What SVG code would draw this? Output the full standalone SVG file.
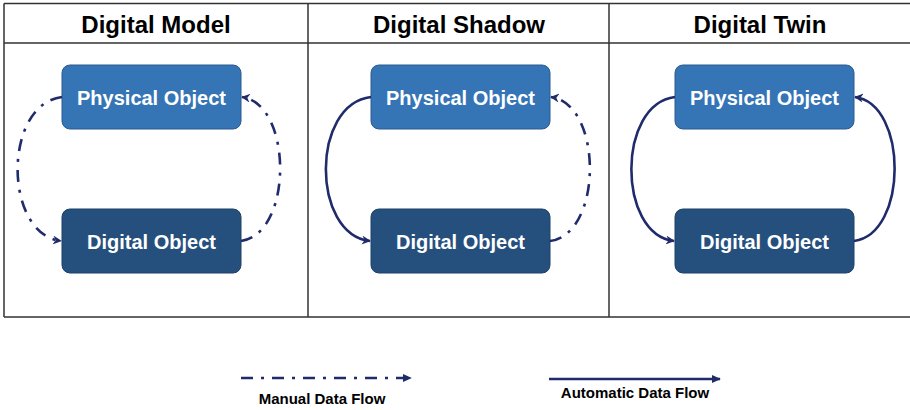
<svg xmlns="http://www.w3.org/2000/svg" width="910" height="410" viewBox="0 0 910 410">
  <defs>
    <marker id="head" viewBox="0 0 10 10" refX="9" refY="5" markerWidth="9" markerHeight="9" markerUnits="userSpaceOnUse" orient="auto">
      <path d="M0,0 L10,5 L0,10 L3,5 Z" fill="#202b6c"/>
    </marker>
    <marker id="tri" viewBox="0 0 10 10" refX="9" refY="5" markerWidth="9" markerHeight="9" markerUnits="userSpaceOnUse" orient="auto">
      <path d="M0,0.5 L10,5 L0,9.5 Z" fill="#202b6c"/>
    </marker>
  </defs>
  <style>
    .frame { fill: none; stroke: #333; stroke-width: 1.5; }
    .title { font-family: "Liberation Sans", Arial, sans-serif; font-weight: bold; font-size: 24px; fill: #000; text-anchor: middle; }
    .phys { fill: #3574b5; stroke: #2a5a8f; stroke-width: 1; }
    .digi { fill: #25507e; stroke: #1d4068; stroke-width: 1; }
    .label { font-family: "Liberation Sans", Arial, sans-serif; font-weight: bold; font-size: 20px; fill: #fff; text-anchor: middle; }
    .flow { fill: none; stroke: #202b6c; stroke-width: 2.6; }
    .manual { stroke-dasharray: 12 8 3 8; }
    .legend { font-family: "Liberation Sans", Arial, sans-serif; font-weight: bold; font-size: 15px; fill: #000; text-anchor: middle; }
  </style>

  <rect width="910" height="410" fill="#fff"/>

  <!-- table frame -->
  <g id="frame">
    <path class="frame" d="M4,3.5 H910 M4,43 H910 M4,317 H910 M4,3.5 V317 M308,3.5 V317 M609,3.5 V317"/>
    <text class="title" x="156" y="33">Digital Model</text>
    <text class="title" x="459" y="33">Digital Shadow</text>
    <text class="title" x="760" y="33">Digital Twin</text>
  </g>

  <!-- Digital Model -->
  <g id="model-physical">
    <rect class="phys" x="62" y="65" width="179" height="64" rx="8"/>
    <text class="label" x="151.5" y="105">Physical Object</text>
  </g>
  <g id="model-digital">
    <rect class="digi" x="62" y="209" width="179" height="64" rx="8"/>
    <text class="label" x="151.5" y="249">Digital Object</text>
  </g>

  <!-- Digital Shadow -->
  <g id="shadow-physical">
    <rect class="phys" x="371" y="65" width="179" height="64" rx="8"/>
    <text class="label" x="460.5" y="105">Physical Object</text>
  </g>
  <g id="shadow-digital">
    <rect class="digi" x="371" y="209" width="179" height="64" rx="8"/>
    <text class="label" x="460.5" y="249">Digital Object</text>
  </g>

  <!-- Digital Twin -->
  <g id="twin-physical">
    <rect class="phys" x="675" y="65" width="179" height="64" rx="8"/>
    <text class="label" x="764.5" y="105">Physical Object</text>
  </g>
  <g id="twin-digital">
    <rect class="digi" x="675" y="209" width="179" height="64" rx="8"/>
    <text class="label" x="764.5" y="249">Digital Object</text>
  </g>

  <!-- data flows -->
  <g id="connectors">
    <path class="flow manual" d="M62,97 C3,104 3,234 61,241" marker-end="url(#head)"/>
    <path class="flow manual" d="M241,241 C293,234 293,104 242,97" marker-end="url(#head)"/>
    <path class="flow" d="M371,97 C311,104 311,234 370,241" marker-end="url(#head)"/>
    <path class="flow manual" d="M550,241 C603,234 603,104 551,97" marker-end="url(#head)"/>
    <path class="flow" d="M675,97 C617,104 617,234 674,241" marker-end="url(#head)"/>
    <path class="flow" d="M854,241 C908,234 908,104 855,97" marker-end="url(#head)"/>
  </g>

  <!-- legend -->
  <g id="legend">
    <path class="flow manual" d="M241,378 H411" marker-end="url(#tri)"/>
    <text class="legend" x="322" y="404">Manual Data Flow</text>
    <path class="flow" d="M549,379 H720" marker-end="url(#tri)"/>
    <text class="legend" x="635" y="398">Automatic Data Flow</text>
  </g>
</svg>
